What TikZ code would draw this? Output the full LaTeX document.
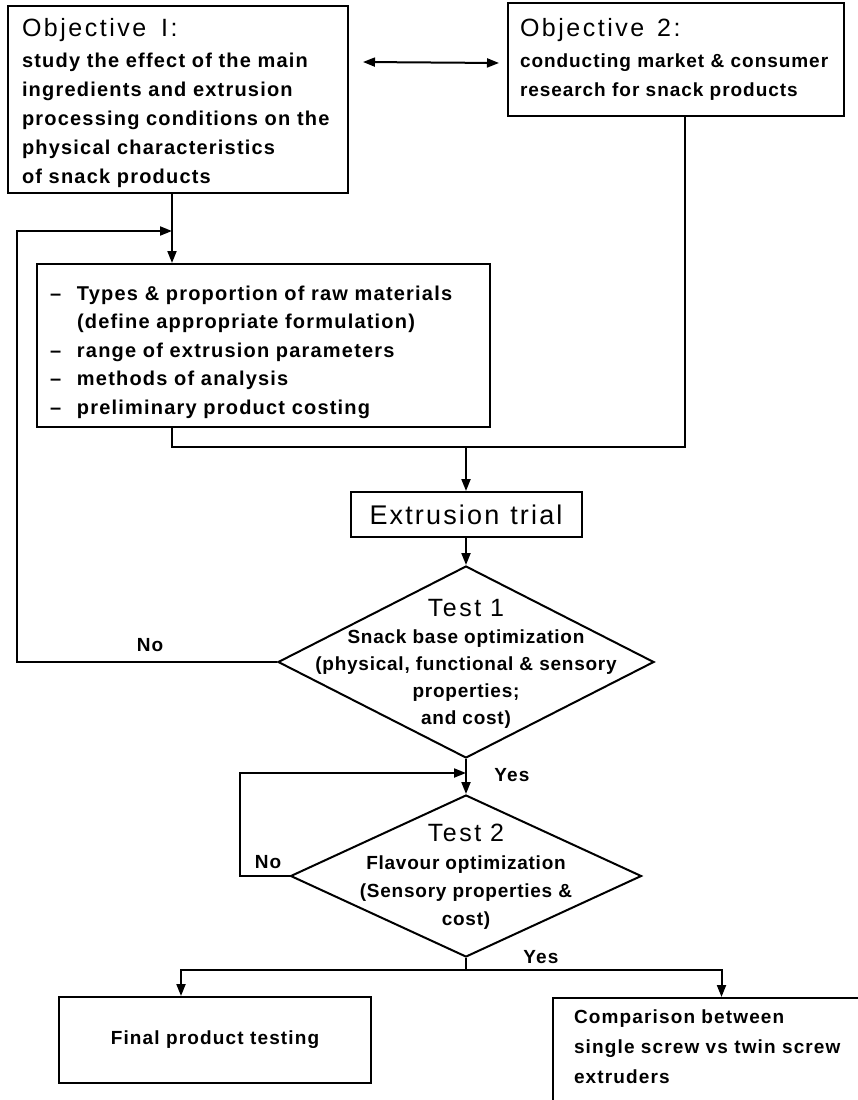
\documentclass[tikz,border=0pt]{standalone}
\usepackage{fontspec}
\setmainfont{Liberation Sans}
\usetikzlibrary{shapes.geometric,arrows.meta,positioning}
\newcommand{\headfont}{\fontsize{25}{29}\mdseries\selectfont\addfontfeature{LetterSpace=10}}
\newcommand{\txtfont}[3]{\fontsize{#1}{#2}\bfseries\selectfont\addfontfeature{LetterSpace=#3}}
\newcommand{\itm}{\makebox[27pt][l]{--}}
\begin{document}
\begin{tikzpicture}[x=1pt,y=-1pt,
    box/.style={draw, line width=2pt, rectangle, inner sep=0pt},
    decision/.style={draw, line width=2pt, diamond, inner sep=0pt},
    link/.style={line width=2pt},
    arr/.style={line width=2pt, -{Triangle[length=12pt,width=9pt]}},
    dblarr/.style={line width=2pt, {Triangle[length=12pt,width=9pt]}-{Triangle[length=12pt,width=9pt]}}]
        \useasboundingbox (0,0) rectangle (858,1100);
        \clip (0,0) rectangle (858,1100);
        \node [box, minimum width=340pt, minimum height=187pt, text width=312pt, inner xsep=14pt, align=left, font={\txtfont{20}{29}{6}}] (obj1) at (178,99.5) {\rule{0pt}{26pt}{\headfont Objective\hspace{15pt}I:}\\[2pt] \mbox{study the effect of the main}\\ \mbox{ingredients and extrusion}\\ \mbox{processing conditions on the}\\ \mbox{physical characteristics}\\ \mbox{of snack products}};
        \node [box, minimum width=336pt, minimum height=113pt, text width=312pt, inner xsep=12pt, align=left, font={\txtfont{19}{29}{5}}] (obj2) at (676,59.5) {{\headfont Objective\hspace{13pt}2:}\\[2pt] \mbox{conducting market \& consumer}\\ \mbox{research for snack products}};
        \node [box, minimum width=453pt, minimum height=163pt, text width=427pt, inner xsep=13pt, align=left, font={\txtfont{20}{28.5}{6}}] (pre) at (263.5,345.5) {\mbox{\rule{0pt}{28pt}\itm Types \& proportion of raw materials}\\ \mbox{\hspace*{27pt}(define appropriate formulation)}\\ \mbox{\itm range of extrusion parameters}\\ \mbox{\itm methods of analysis}\\ \mbox{\itm preliminary product costing}};
        \node [box, minimum width=231pt, minimum height=45pt, font=\fontsize{27}{30}\selectfont\addfontfeature{LetterSpace=8}] (ext) at (466,514.5) {Extrusion\hspace{11pt}trial};
        \node [decision, minimum width=376pt, minimum height=192pt] (t1) at (466,662) {};
        \node [align=center, font={\txtfont{19}{27}{4}}] (t1txt) at (466,664) {{\headfont Test\hspace{9pt}1}\\ Snack base optimization\\ (physical, functional \& sensory\\ properties;\\ and cost)};
        \node [decision, minimum width=351pt, minimum height=162pt] (t2) at (466,876) {};
        \node [align=center, font={\txtfont{19}{28}{4}}] (t2txt) at (466,877) {{\headfont Test\hspace{9pt}2}\\ Flavour optimization\\ (Sensory properties \&\\ cost)};
        \node [box, minimum width=312pt, minimum height=86pt, font={\txtfont{19}{28}{6}}] (final) at (215,1040) {Final product testing};
        \node [box, anchor=north west, minimum width=320pt, minimum height=106pt, text width=279pt, inner xsep=21pt, align=left, font={\txtfont{19}{30}{6}}] (comp) at (552,997) {\mbox{Comparison between}\\ \mbox{single screw vs twin screw}\\ \mbox{extruders\rule[-8pt]{0pt}{8pt}}};
        \coordinate (j1) at ([xshift=-6pt]obj1.south |- 0,231);
        \coordinate (j2) at (t1.south |- 0,773);
        \coordinate (j3) at (t1.north |- 0,447);
        \coordinate (j4) at ([yshift=-12pt]t2.south);
        \draw [dblarr] ([shift={(14,57)}]obj1.north east) -- ([shift={(-8,0)}]obj2.west |- 0,63);
        \draw [arr] ([xshift=-6pt]obj1.south) -- ([xshift=-6pt]obj1.south |- pre.north);
        \draw [arr] (t1.west) -- (17,662) |- (j1);
        \draw [link] ([xshift=-91.5pt]pre.south) |- (j3);
        \draw [link] ([xshift=9pt]obj2.south) |- (j3);
        \draw [arr] (j3) -- (ext.north);
        \draw [arr] (ext.south) -- (t1.north);
        \draw [arr] (t1.south) -- (t2.north);
        \draw [arr] (t2.west) -- ++(-50,0) |- (j2);
        \draw [arr] (t2.south) -- (j4) -| ([xshift=-34pt]final.north);
        \draw [arr] (j4) -| ([xshift=8pt]comp.north);
        \node [font={\txtfont{19}{28}{6}}] (no1) at (150,645) {No};
        \node [font={\txtfont{19}{28}{6}}] (yes1) at (512,775) {Yes};
        \node [font={\txtfont{19}{28}{6}}] (no2) at (268,862) {No};
        \node [font={\txtfont{19}{28}{6}}] (yes2) at (541,957) {Yes};
    \end{tikzpicture}
\end{document}
